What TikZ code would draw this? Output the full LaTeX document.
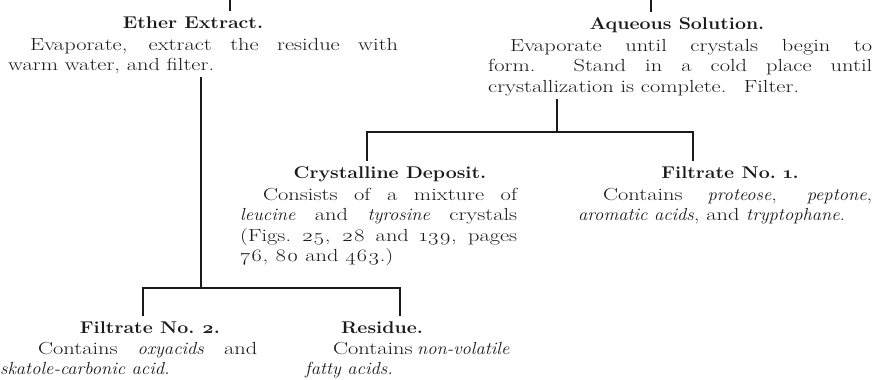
\documentclass[tikz,border=0pt]{standalone}
\usepackage{fontspec}
\setmainfont{Latin Modern Roman}[FakeStretch=1.28,ItalicFeatures={FakeStretch=1.06}]
\newfontfamily\headfont{Latin Modern Roman}[FakeStretch=1.15]
\usepackage{tikz}
\usetikzlibrary{positioning,calc}
\usepackage{xcolor}
\definecolor{Ink}{HTML}{1A1A1A}
\newcommand{\os}[1]{\oldstylenums{#1}}
\newcommand{\nohyph}{\hyphenpenalty=10000\exhyphenpenalty=10000\relax}

\begin{document}
\begin{tikzpicture}[x=1pt,y=-1pt,
  head/.style={anchor=base,inner xsep=0pt,inner ysep=5pt,font=\headfont\fontsize{17}{20}\selectfont\bfseries,text=Ink},
  para/.style={inner sep=0pt,anchor=base west,align=justify,font=\fontsize{17.5}{20.5}\selectfont\nohyph,text=Ink},
  rule/.style={Ink,line width=1.7pt}]
\useasboundingbox[fill=white] (0,0) rectangle (876,380);
% upper row
\node[head] (ethhead) at (193,28) {Ether Extract.};
\node[para,text width=390pt] (ethpara) at (8,50) {\hspace*{22pt}Evaporate, extract the residue with\linebreak warm water, and filter.};
\node[head] (aqhead) at (677,29) {Aqueous Solution.};
\node[para,text width=384pt] (aqpara) at (488,51) {\hspace*{22pt}Evaporate until crystals begin to\linebreak form.\ \ Stand in a cold place until\linebreak crystallization is complete.\quad Filter.};
% middle row
\node[head] (crhead) at (390,178) {Crystalline Deposit.};
\node[para,text width=277pt] (crpara) at (240,200) {\hspace*{23pt}Consists of a mixture of\linebreak \textit{leucine} and \textit{tyrosine} crystals\linebreak (Figs.~\os{25}, \os{28} and \os{139}, pages\linebreak \os{76}, \os{80} and \os{463}.)};
\node[head] (fil1head) at (730,178) {Filtrate No.~\os{1}.};
\node[para,text width=294pt] (fil1para) at (578,200) {\hspace*{25pt}Contains \textit{proteose}, \textit{peptone},\linebreak \textit{aromatic acids}, and \textit{tryptophane}.};
% lower row
\node[head] (fil2head) at (150,333) {Filtrate No.~\os{2}.};
\node[para,text width=257pt] (fil2para) at (0,354) {\hspace*{38pt}Contains \textit{oxyacids} and\linebreak \textit{skatole-carbonic acid.}};
\node[head] (reshead) at (382,333) {Residue.};
\node[para,text width=194pt] (respara) at (305,354) {\hspace*{28pt}Contains~\mbox{\textit{non-volatile}}\linebreak \textit{fatty acids.}};
% branch points
\coordinate (in1) at (230,0);
\coordinate (in2) at (651,0);
\coordinate (t1) at (201,288);
\coordinate (t2) at (557,132);
\coordinate (f1l) at (367,132);
\coordinate (f1r) at (693,132);
\coordinate (f2l) at (143,288);
\coordinate (f2r) at (400,288);
% connectors
\draw[rule] (in1) -- (in1 |- ethhead.north);
\draw[rule] (in2) -- (in2 |- aqhead.north);
\draw[rule] ($(t1 |- ethpara.south)+(0,3)$) -- (t1);
\draw[rule] ($(t2 |- aqpara.south)+(0,3)$) -- (t2);
\draw[rule] (f1l |- crhead.north) -- (f1l) -- (f1r) -- (f1r |- fil1head.north);
\draw[rule] (f2l |- fil2head.north) -- (f2l) -- (f2r) -- (f2r |- reshead.north);
\end{tikzpicture}
\end{document}
